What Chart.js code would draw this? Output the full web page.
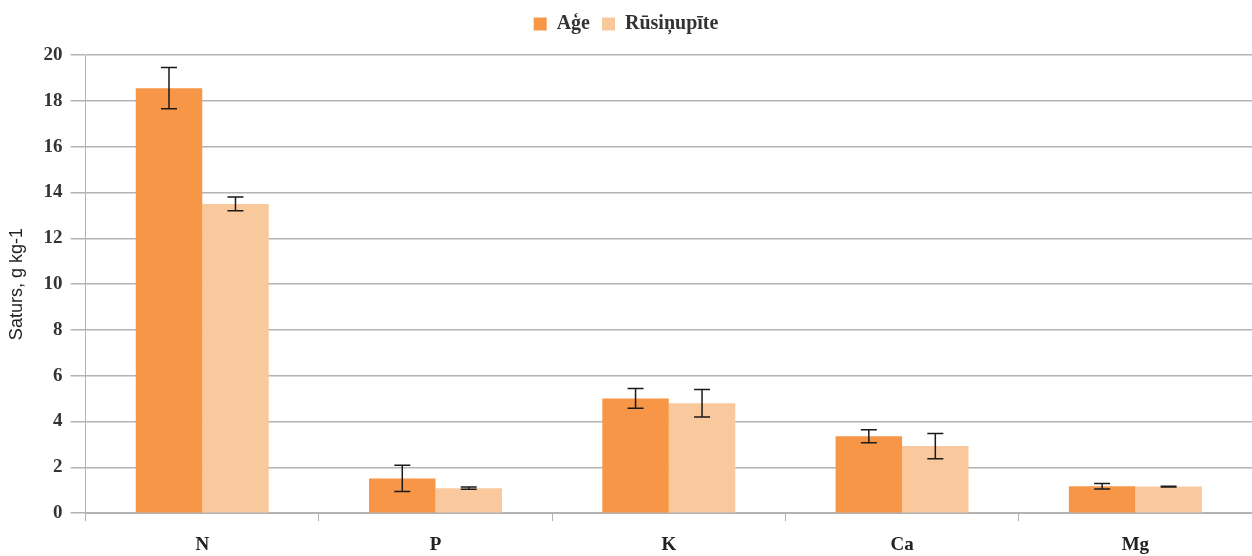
<!DOCTYPE html>
<html>
<head>
<meta charset="utf-8">
<script src="https://cdn.jsdelivr.net/npm/chart.js@4/dist/chart.umd.min.js"></script>
<style>
  html, body { margin: 0; padding: 0; background: #fff; }
  #wrap { width: 1252px; height: 556px; }
</style>
</head>
<body>
<div id="wrap"><canvas id="myChart"></canvas></div>
<script>
const labels = ['N', 'P', 'K', 'Ca', 'Mg'];
const ageValues = [18.55, 1.52, 5.01, 3.36, 1.18];
const ageErrors = [0.9, 0.57, 0.43, 0.28, 0.12];
const rusValues = [13.5, 1.09, 4.8, 2.93, 1.16];
const rusErrors = [0.3, 0.05, 0.6, 0.55, 0.02];
const yTicks = [0, 2, 4, 6, 8, 10, 12, 14, 16, 18, 20];

// draws the error whiskers on top of each bar
const errorBars = {
    id: 'errorBars',
    afterDatasetsDraw(chart) {
        const ctx = chart.ctx;
        const y = chart.scales.y;
        const errs = [ageErrors, rusErrors];
        chart.data.datasets.forEach((ds, i) => {
            const meta = chart.getDatasetMeta(i);
            meta.data.forEach((bar, j) => {
                const v = ds.data[j];
                const e = errs[i][j];
                const top = y.getPixelForValue(v + e);
                const bot = y.getPixelForValue(v - e);
                ctx.save();
                ctx.strokeStyle = '#1a1a1a';
                ctx.lineWidth = 1.5;
                ctx.beginPath();
                ctx.moveTo(bar.x, top);
                ctx.lineTo(bar.x, bot);
                ctx.moveTo(bar.x - 8, top);
                ctx.lineTo(bar.x + 8, top);
                ctx.moveTo(bar.x - 8, bot);
                ctx.lineTo(bar.x + 8, bot);
                ctx.stroke();
                ctx.restore();
            });
        });
    }
};

// a bit more room under the legend
const legendGap = {
    id: 'legendGap',
    beforeInit(chart) {
        const fit = chart.legend.fit;
        chart.legend.fit = function () {
            fit.bind(chart.legend)();
            this.height += 11;
        };
    }
};

const ctx = document.getElementById('myChart').getContext('2d');

const config = {
    type: 'bar',
    data: {
        labels: labels,
        datasets: [{
            label: 'Aģe',
            data: ageValues,
            backgroundColor: '#f79646',
            categoryPercentage: 0.57,
            barPercentage: 1.0
        }, {
            label: 'Rūsiņupīte',
            data: rusValues,
            backgroundColor: '#f9c89c',
            categoryPercentage: 0.57,
            barPercentage: 1.0
        }]
    },
    options: {
        responsive: true,
        maintainAspectRatio: false,
        animation: false,
        layout: { padding: { left: 0, right: 0, top: 2, bottom: -12 } },
        plugins: {
            legend: {
                position: 'top',
                labels: {
                    boxWidth: 13,
                    boxHeight: 13,
                    padding: 12,
                    color: '#333',
                    font: { family: 'Liberation Serif', size: 20, weight: 'bold' }
                }
            },
            tooltip: { enabled: false }
        },
        scales: {
            x: {
                grid: {
                    offset: true,
                    drawOnChartArea: false,
                    drawTicks: true,
                    tickLength: 8,
                    color: '#b3b3b3'
                },
                border: { color: '#b3b3b3' },
                ticks: {
                    color: '#222',
                    padding: 12,
                    font: { family: 'Liberation Serif', size: 19, weight: 'bold' }
                }
            },
            y: {
                min: 0,
                max: 20,
                afterBuildTicks(axis) {
                    axis.ticks = yTicks.map(v => ({ value: v }));
                },
                grid: {
                    color: '#b3b3b3',
                    lineWidth: 1.5,
                    tickLength: 15
                },
                border: { color: '#b3b3b3' },
                ticks: {
                    color: '#333',
                    padding: 8,
                    font: { family: 'Liberation Serif', size: 19, weight: 'bold' }
                },
                title: {
                    display: true,
                    text: 'Saturs, g kg-1',
                    color: '#222',
                    padding: { top: 6, bottom: 8 },
                    font: { family: 'Liberation Sans', size: 18 }
                }
            }
        }
    },
    plugins: [errorBars, legendGap]
};

const myChart = new Chart(ctx, config);
</script>
</body>
</html>
